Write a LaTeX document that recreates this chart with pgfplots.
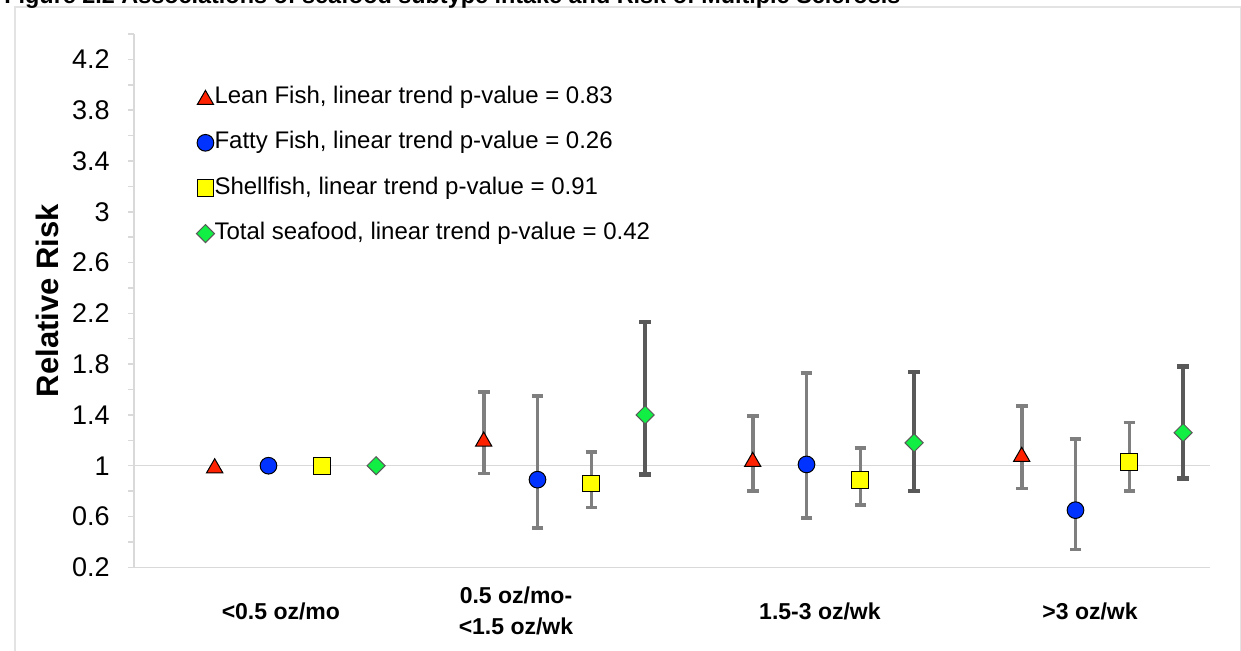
\documentclass[border=0pt]{standalone}
\usepackage{fontspec}
\setmainfont{Liberation Sans}
\usepackage{pgfplots}
\usepackage{pgfplotstable}
\pgfplotsset{compat=1.18}
\definecolor{axgray}{HTML}{D9D9D9}
\definecolor{framegray}{HTML}{E3E3E3}
\definecolor{errgray}{HTML}{7F7F7F}
\definecolor{errdark}{HTML}{595959}
\definecolor{leanred}{HTML}{FF2200}
\definecolor{fattyblue}{HTML}{0033FF}
\definecolor{shellyellow}{HTML}{FFFF00}
\definecolor{totalgreen}{HTML}{11EE44}

% x = slot (group*5 + item), y = relative risk, ep/em = CI distances
\pgfplotstableread{
x y ep em
5 1.21 0.37 0.27
10 1.05 0.34 0.25
15 1.09 0.38 0.27
}\lean
\pgfplotstableread{
x y ep em
6 0.89 0.66 0.38
11 1.01 0.72 0.42
16 0.65 0.56 0.31
}\fatty
\pgfplotstableread{
x y ep em
7 0.86 0.25 0.19
12 0.89 0.25 0.20
17 1.03 0.31 0.23
}\shell
\pgfplotstableread{
x y ep em
8 1.40 0.73 0.47
13 1.18 0.56 0.38
18 1.26 0.52 0.36
}\total

\begin{document}
\begin{tikzpicture}
\begin{axis}[
  at={(0,0)}, anchor=south west,
  scale only axis,
  width=538pt, height=266.65pt,
  xmin=-1.5, xmax=18.5,
  ymin=0.2, ymax=4.4,
  axis x line=bottom, axis y line=left,
  axis line style={-, axgray, line width=0.75pt},
  xtick={1.23,5.6,11.25,16.27},
  xticklabels={{<0.5 oz/mo},{0.5 oz/mo-\\<1.5 oz/wk},{1.5-3 oz/wk},{>3 oz/wk}},
  xtick style={draw=none},
  xticklabel style={anchor=center, yshift=-19pt, align=center,
    font=\bfseries\fontsize{11.5}{15.5}\selectfont},
  ytick={0.2,0.6,1,1.4,1.8,2.2,2.6,3,3.4,3.8,4.2},
  minor ytick={0.4,0.8,1.2,1.6,2,2.4,2.8,3.2,3.6,4,4.4},
  tick align=outside,
  major tick length=3pt, minor tick length=3pt,
  ytick style={axgray, line width=0.75pt},
  minor tick style={axgray, line width=0.75pt},
  yticklabel style={anchor=east, inner sep=0pt, xshift=-9pt, font=\fontsize{13.5}{15}\selectfont},
  /pgf/number format/assume math mode=true,
  extra y ticks={1},
  extra y tick labels={},
  extra y tick style={grid=major, major grid style={axgray, line width=0.75pt}},
  ylabel={Relative Risk},
  every axis y label/.style={at={(axis description cs:0,0.5)}, xshift=-43.5pt, rotate=90,
    anchor=center, font=\bfseries\fontsize{15.5}{18}\selectfont},
  clip=false,
  legend cell align=left,
  legend style={at={(rel axis cs:0,1)}, anchor=north west, xshift=31pt, yshift=-26pt,
    draw=none, fill=none, inner sep=0pt, row sep=11.7pt,
    font=\fontsize{12}{14}\selectfont,
    nodes={inner sep=0pt, text height=8.5pt, text depth=2.5pt}},
  legend image code/.code={\draw[#1] plot[only marks] coordinates {(0pt,0pt)};},
]
\addplot[only marks, mark=triangle*, mark size=4.7pt,
  mark options={fill=leanred, draw=black, line width=0.5pt, yshift=-1.2pt},
  error bars/.cd, y dir=both, y explicit,
  error bar style={errgray, line width=1.8pt},
  error mark options={rotate=90, errgray, line width=1.8pt, mark size=2.9pt}]
  table[x=x, y=y, y error plus=ep, y error minus=em] {\lean};
\addlegendentry{Lean Fish, linear trend p-value = 0.83}
\addplot[only marks, mark=*, mark size=4.17pt,
  mark options={fill=fattyblue, draw=black, line width=0.5pt},
  error bars/.cd, y dir=both, y explicit,
  error bar style={errgray, line width=1.8pt},
  error mark options={rotate=90, errgray, line width=1.8pt, mark size=2.9pt}]
  table[x=x, y=y, y error plus=ep, y error minus=em] {\fatty};
\addlegendentry{Fatty Fish, linear trend p-value = 0.26}
\addplot[only marks, mark=square*, mark size=4.17pt,
  mark options={fill=shellyellow, draw=black, line width=0.5pt},
  error bars/.cd, y dir=both, y explicit,
  error bar style={errgray, line width=1.8pt},
  error mark options={rotate=90, errgray, line width=1.8pt, mark size=2.9pt}]
  table[x=x, y=y, y error plus=ep, y error minus=em] {\shell};
\addlegendentry{Shellfish, linear trend p-value = 0.91}
\addplot[only marks, mark=square*, mark size=3.2pt,
  mark options={fill=totalgreen, draw=errdark, line width=0.5pt, rotate=45},
  error bars/.cd, y dir=both, y explicit,
  error bar style={errdark, line width=2.2pt},
  error mark options={rotate=90, errdark, line width=2.2pt, mark size=2.9pt}]
  table[x=x, y=y, y error plus=ep, y error minus=em] {\total};
\addlegendentry{Total seafood, linear trend p-value = 0.42}
% reference category (no intervals)
\addplot[forget plot, only marks, mark=triangle*, mark size=4.7pt,
  mark options={fill=leanred, draw=black, line width=0.5pt, yshift=-1.2pt}]
  coordinates {(0,1)};
\addplot[forget plot, only marks, mark=*, mark size=4.17pt,
  mark options={fill=fattyblue, draw=black, line width=0.5pt}]
  coordinates {(1,1)};
\addplot[forget plot, only marks, mark=square*, mark size=4.17pt,
  mark options={fill=shellyellow, draw=black, line width=0.5pt}]
  coordinates {(2,1)};
\addplot[forget plot, only marks, mark=square*, mark size=3.2pt,
  mark options={fill=totalgreen, draw=errdark, line width=0.5pt, rotate=45}]
  coordinates {(3,1)};
\end{axis}
\draw[framegray, line width=0.75pt] (-59.5pt,-60pt) rectangle (553.3pt,280.15pt);
\node[anchor=base west, inner sep=0pt, font=\bfseries\fontsize{11.7}{13}\selectfont]
  at (-65pt,281.65pt) {Figure 2.2 Associations of seafood subtype intake and Risk of Multiple Sclerosis};
\pgfresetboundingbox
\path[use as bounding box] (-67pt,-41.85pt) rectangle (553.5pt,283.65pt);
\end{tikzpicture}
\end{document}
